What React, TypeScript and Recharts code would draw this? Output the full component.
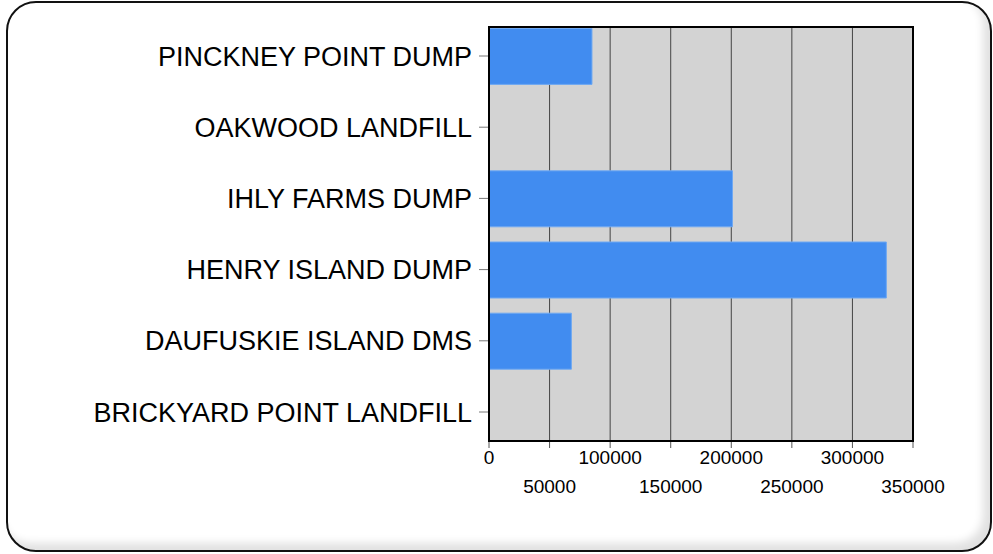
import React from "react";
import { BarChart, Bar, XAxis, YAxis, CartesianGrid } from "recharts";

// landfill sites, top to bottom as drawn
const SITES = [
  "PINCKNEY POINT DUMP",
  "OAKWOOD LANDFILL",
  "IHLY FARMS DUMP",
  "HENRY ISLAND DUMP",
  "DAUFUSKIE ISLAND DMS",
  "BRICKYARD POINT LANDFILL",
];
const AMOUNTS = [85000, 0, 201000, 328000, 68000, 0];
const X_TICKS = [0, 50000, 100000, 150000, 200000, 250000, 300000, 350000];

const FONT = "'Liberation Sans', Arial, sans-serif";
const BORDER = { stroke: "#000", strokeWidth: 2 };

const data = SITES.map((name, i) => ({ name, value: AMOUNTS[i] }));

// staggered labels: even ticks on first row, odd ones below
function StaggerTick(props: any) {
  const { x, y, payload, index } = props;
  const dy = index % 2 === 0 ? 9 : 38;
  return (
    <text
      x={x}
      y={y + dy}
      textAnchor="middle"
      dominantBaseline="central"
      fontFamily={FONT}
      fontSize={19}
      fill="#000"
    >
      {payload.value}
    </text>
  );
}

export default function App() {
  return (
    <div style={{ position: "absolute", left: 0, top: 0, width: 993, height: 554, background: "#fff" }}>
      <div
        style={{
          position: "absolute",
          left: 6,
          top: 1,
          width: 982,
          height: 547,
          border: "2px solid #111",
          borderRadius: 30,
          boxShadow: "inset -7px -7px 8px rgba(0,0,0,0.12)",
        }}
      />
      <div style={{ position: "absolute", left: 0, top: 0 }}>
        <BarChart
          width={993}
          height={554}
          data={data}
          layout="vertical"
          margin={{ top: 27, right: 80, bottom: 0, left: 0 }}
        >
          <CartesianGrid fill="#d3d3d3" horizontal={false} stroke="#444" strokeOpacity={1} />
          <XAxis
            type="number"
            domain={[0, 350000]}
            ticks={X_TICKS}
            interval={0}
            height={113}
            axisLine={BORDER}
            tickLine={{ stroke: "#555" }}
            tickSize={7}
            tickMargin={0}
            tick={<StaggerTick />}
          />
          <YAxis
            type="category"
            dataKey="name"
            width={489}
            axisLine={BORDER}
            tickLine={{ stroke: "#777" }}
            tickSize={10}
            tickMargin={7}
            padding={{ top: -6.6, bottom: -6.6 }}
            tick={{ fill: "#000", fontSize: 27, fontFamily: FONT }}
          />
          <Bar
            dataKey="value"
            fill="#418cf0"
            stroke="#6fa8f2"
            strokeWidth={1}
            barSize={56}
            isAnimationActive={false}
          />
        </BarChart>
      </div>
      {/* plot frame */}
      <div
        style={{
          position: "absolute",
          left: 488,
          top: 26,
          width: 426,
          height: 416,
          boxSizing: "border-box",
          border: "2px solid #000",
          pointerEvents: "none",
        }}
      />
    </div>
  );
}
